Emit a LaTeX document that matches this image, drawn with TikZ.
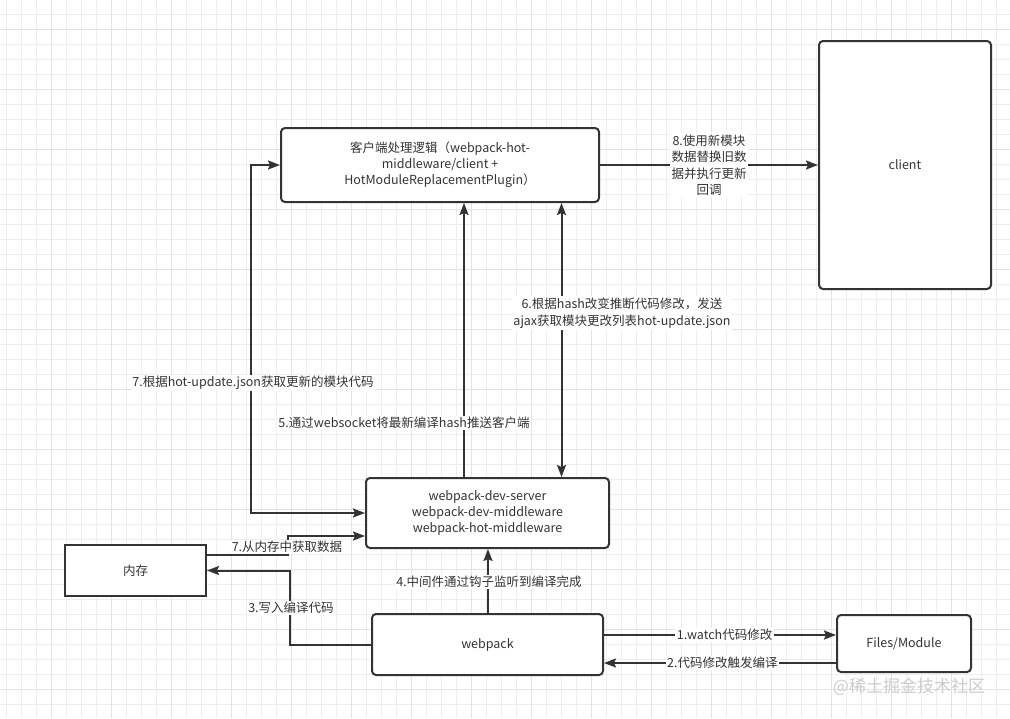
\documentclass[tikz,border=0pt]{standalone}
\usepackage{fontspec}
\setmainfont{Noto Sans CJK SC}
\usetikzlibrary{arrows.meta,calc}
\definecolor{ink}{HTML}{333333}
\definecolor{gridminor}{HTML}{EEEEEE}
\definecolor{gridmajor}{HTML}{E3E3E3}
\begin{document}
\begin{tikzpicture}[x=1pt,y=-1pt,
  box/.style={draw=ink,line width=2pt,rounded corners=4pt,fill=white,text=ink,align=center,
    font=\fontsize{12.5}{16}\selectfont,inner sep=2pt},
  sqbox/.style={box,rounded corners=0pt},
  conn/.style={draw=ink,line width=2pt},
  arr/.style={conn,-{Stealth[length=12pt,width=9pt,inset=2pt]}},
  arrboth/.style={conn,{Stealth[length=12pt,width=9pt,inset=2pt]}-{Stealth[length=12pt,width=9pt,inset=2pt]}},
  lbl/.style={fill=white,text=ink,align=center,font=\fontsize{12.5}{16.5}\selectfont,inner sep=1.5pt}]
\useasboundingbox (0,0) rectangle (1010,718);
\fill[white] (0,0) rectangle (1010,718);
% grid
\foreach \gx in {6.7,21.7,...,1010} {\draw[gridminor,line width=0.7pt] (\gx,0) -- (\gx,718);}
\foreach \gy in {14.3,29.3,...,718} {\draw[gridminor,line width=0.7pt] (0,\gy) -- (1010,\gy);}
\foreach \gx in {51.7,111.7,...,1010} {\draw[gridmajor,line width=0.8pt] (\gx,0) -- (\gx,718);}
\foreach \gy in {29.3,89.3,...,718} {\draw[gridmajor,line width=0.8pt] (0,\gy) -- (1010,\gy);}
% nodes
\node[box,minimum width=318pt,minimum height=74pt] (cl) at (440,165)
  {客户端处理逻辑（webpack-hot-\\middleware/client +\\HotModuleReplacementPlugin）};
\node[box,minimum width=172pt,minimum height=248pt] (client) at (905,165) {client};
\node[box,minimum width=243pt,minimum height=70pt] (server) at (487.5,513)
  {webpack-dev-server\\webpack-dev-middleware\\webpack-hot-middleware};
\node[sqbox,minimum width=141pt,minimum height=51pt] (mem) at (135.5,570.5) {内存};
\node[box,minimum width=231pt,minimum height=61pt] (webpack) at (487.5,644.5) {webpack};
\node[box,minimum width=134pt,minimum height=57pt] (files) at (904,643.5) {Files/Module};
% 8
\draw[arr] (cl.east) -- node[lbl,pos=0.5] (l8) {8.使用新模块\\数据替换旧数\\据并执行更新\\回调} (client.west);
% 7 left loop
\coordinate (lc) at ($(server.west)+(-114,0)$);
\draw[arrboth] (server.west) -- (lc) |- (cl.west);
\node[lbl] (l7a) at (253,383) {7.根据hot-update.json获取更新的模块代码};
% 5 websocket
\coordinate (w5) at ($(server.north)+(-23.5,0)$);
\draw[arr] (w5) -- (w5 |- cl.south);
\node[lbl] (l5) at (404,423) {5.通过websocket将最新编译hash推送客户端};
% 6
\coordinate (h6) at ($(server.north)+(74,0)$);
\draw[arrboth] (h6) -- (h6 |- cl.south);
\node[lbl] (l6) at (622,313) {6.根据hash改变推断代码修改，发送\\ajax获取模块更改列表hot-update.json};
% 7 memory
\coordinate (m7s) at ($(mem.east)+(0,-15.5)$);
\coordinate (m7e) at ($(server.west)+(0,23)$);
\draw[arr] (m7s) -- ++(81,0) |- (m7e);
\node[lbl] (l7b) at (287,547) {7.从内存中获取数据};
% 3
\coordinate (c3) at ($(webpack.west)+(-81,0)$);
\draw[arr] (webpack.west) -- (c3) |- (mem.east);
\node[lbl] (l3) at (291,608) {3.写入编译代码};
% 4
\coordinate (p4) at ($(webpack.north)+(0.5,0)$);
\draw[arr] (p4) -- (p4 |- server.south);
\node[lbl] (l4) at (489,582) {4.中间件通过钩子监听到编译完成};
% 1
\coordinate (f1) at ($(files.west)+(0,-8.5)$);
\draw[arr] (f1 -| webpack.east) -- node[lbl,pos=0.52] (l1) {1.watch代码修改} (f1);
% 2
\coordinate (f2) at ($(files.west)+(0,19.5)$);
\draw[arr] (f2) -- node[lbl,pos=0.49] (l2) {2.代码修改触发编译} (f2 -| webpack.east);
% watermark
\node[text=gray!40,font=\fontsize{17}{19}\selectfont,inner sep=0pt] (wm) at (909,687) {@稀土掘金技术社区};
\end{tikzpicture}
\end{document}
